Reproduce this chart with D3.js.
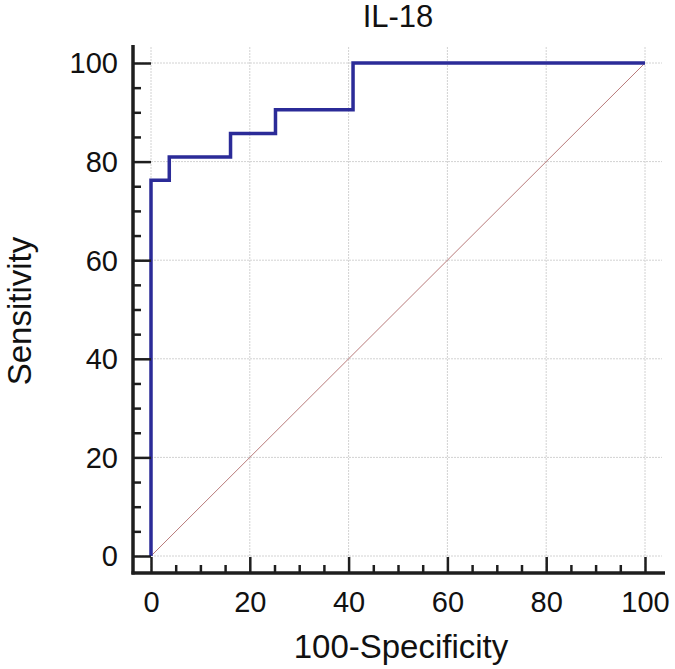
<!DOCTYPE html>
<html>
<head>
<meta charset="utf-8">
<script src="https://cdn.jsdelivr.net/npm/d3@7"></script>
<style>
  html, body { margin: 0; padding: 0; background: #fff; }
  svg { display: block; font-family: "Liberation Sans", Arial, sans-serif; }
</style>
</head>
<body>
<svg id="chart" width="675" height="669"></svg>
<script>
// ---- data ----
const title = "IL-18";
const xLabel = "100-Specificity";
const yLabel = "Sensitivity";
const rocX = [0, 0, 3.7, 3.7, 16.1, 16.1, 25.2, 25.2, 40.9, 40.9, 100];
const rocY = [0, 76.2, 76.2, 80.95, 80.95, 85.7, 85.7, 90.5, 90.5, 100, 100];
const diagX = [0, 100];
const diagY = [0, 100];
const majorTicks = [0, 20, 40, 60, 80, 100];
const minorTicks = [5, 10, 15, 25, 30, 35, 45, 50, 55, 65, 70, 75, 85, 90, 95];

// ---- layout ----
const svg = d3.select("#chart");
const axisLeftX = 133, axisBottomY = 573;
const plotRight = 665, plotTop = 45;
const x = d3.scaleLinear().domain([0, 100]).range([151, 645]);
const y = d3.scaleLinear().domain([0, 100]).range([556, 63]);
const axisColor = "#1e1e1e";

// grid
const grid = svg.append("g");
grid.selectAll("line.v").data(majorTicks).enter().append("line")
  .attr("x1", d => x(d)).attr("x2", d => x(d))
  .attr("y1", plotTop + 2).attr("y2", axisBottomY)
  .attr("stroke", "#d2d2d2").attr("stroke-width", 1).attr("stroke-dasharray", "2,1");
grid.selectAll("line.h").data(majorTicks).enter().append("line")
  .attr("x1", axisLeftX).attr("x2", plotRight - 3)
  .attr("y1", d => y(d)).attr("y2", d => y(d))
  .attr("stroke", "#d2d2d2").attr("stroke-width", 1).attr("stroke-dasharray", "2,1");

// diagonal
svg.append("path")
  .datum(diagX.map((d, i) => [d, diagY[i]]))
  .attr("d", d3.line().x(d => x(d[0])).y(d => y(d[1])))
  .attr("fill", "none").attr("stroke", "#b87a7a").attr("stroke-width", 1);

// ROC curve
svg.append("path")
  .datum(rocX.map((d, i) => [d, rocY[i]]))
  .attr("d", d3.line().x(d => x(d[0])).y(d => y(d[1])))
  .attr("fill", "none").attr("stroke", "#2b2b98").attr("stroke-width", 3.5)
  .attr("stroke-linejoin", "miter");

// axes
function styleAxis(g) {
  g.select(".domain").remove();
  g.selectAll(".tick line").attr("stroke", axisColor).attr("stroke-width", 2.5);
  g.selectAll(".tick text").attr("fill", "#111").style("font-size", "29px")
    .style("font-family", "'Liberation Sans', Arial, sans-serif");
}
svg.append("g").attr("transform", `translate(0,${axisBottomY})`)
  .call(d3.axisBottom(x).tickValues(majorTicks).tickSize(-(axisBottomY - y(0) - 1)).tickPadding(18.5))
  .call(styleAxis);
svg.append("g").attr("transform", `translate(0,${axisBottomY})`)
  .call(d3.axisBottom(x).tickValues(minorTicks).tickSize(-8).tickFormat(""))
  .call(styleAxis);
const yMajor = svg.append("g").attr("transform", `translate(${axisLeftX},0)`)
  .call(d3.axisLeft(y).tickValues(majorTicks).tickSize(-(x(0) - axisLeftX)).tickPadding(15))
  .call(styleAxis);
svg.append("g").attr("transform", `translate(${axisLeftX},0)`)
  .call(d3.axisLeft(y).tickValues(minorTicks).tickSize(-8).tickFormat(""))
  .call(styleAxis);
yMajor.selectAll(".tick text").attr("dy", "0.34em");

// axis lines
svg.append("line").attr("x1", axisLeftX).attr("x2", axisLeftX)
  .attr("y1", plotTop).attr("y2", axisBottomY + 1.5)
  .attr("stroke", axisColor).attr("stroke-width", 3.5);
svg.append("line").attr("x1", axisLeftX - 1.5).attr("x2", plotRight)
  .attr("y1", axisBottomY).attr("y2", axisBottomY)
  .attr("stroke", axisColor).attr("stroke-width", 3.5);

// title & labels
svg.append("text").attr("x", 398).attr("y", 27).attr("text-anchor", "middle")
  .style("font-size", "31px").attr("fill", "#111").text(title);
svg.append("text").attr("x", 401).attr("y", 658).attr("text-anchor", "middle")
  .style("font-size", "33px").attr("fill", "#111").text(xLabel);
svg.append("text").attr("transform", "translate(31,311) rotate(-90)").attr("text-anchor", "middle")
  .style("font-size", "33px").attr("fill", "#111").text(yLabel);
</script>
</body>
</html>
